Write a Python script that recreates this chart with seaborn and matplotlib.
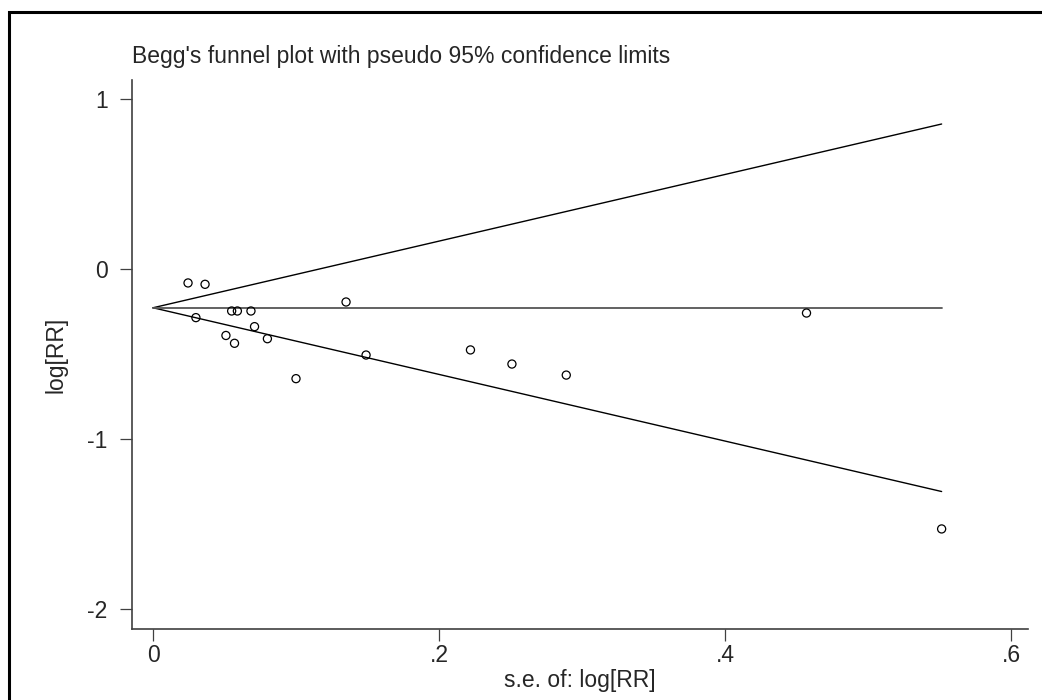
import matplotlib
matplotlib.use("Agg")
import matplotlib.pyplot as plt
import seaborn as sns
import pandas as pd
import numpy as np
from matplotlib.patches import Rectangle

# Data
se_values = [0.0245, 0.0364, 0.0300, 0.0510, 0.0550, 0.0590, 0.0570, 0.0685,
             0.0710, 0.0800, 0.1000, 0.1350, 0.1490, 0.2220, 0.2510, 0.2890,
             0.4570, 0.5515]
logrr_values = [-0.082, -0.090, -0.286, -0.391, -0.247, -0.247, -0.437, -0.247,
                -0.339, -0.410, -0.645, -0.194, -0.506, -0.476, -0.559, -0.624,
                -0.259, -1.529]
pooled = -0.228
x_ticks = [0, 0.2, 0.4, 0.6]
x_tick_labels = ["0", ".2", ".4", ".6"]
y_ticks = [1, 0, -1, -2]
y_tick_labels = ["1", "0", "-1", "-2"]
title = "Begg's funnel plot with pseudo 95% confidence limits"
x_label = "s.e. of: log[RR]"
y_label = "log[RR]"

sns.set_theme(style="white")
plt.rcParams['font.family'] = ['Liberation Sans', 'DejaVu Sans']

df = pd.DataFrame({"se": se_values, "logrr": logrr_values})
se_max = max(se_values)
lines = pd.DataFrame({
    "se": [0, se_max, 0, se_max, 0, se_max],
    "y": [pooled, pooled + 1.96 * se_max, pooled, pooled - 1.96 * se_max, pooled, pooled],
    "kind": ["upper", "upper", "lower", "lower", "pooled", "pooled"],
})

fig = plt.figure(figsize=(10.42, 7.0), dpi=100)
ax = fig.add_axes([132 / 1042, 1 - 629 / 700, (1028 - 132) / 1042, (629 - 80) / 700])

sns.lineplot(data=lines[lines.kind == "upper"], x="se", y="y", ax=ax, color="black", lw=1.0)
sns.lineplot(data=lines[lines.kind == "lower"], x="se", y="y", ax=ax, color="black", lw=1.0)
sns.lineplot(data=lines[lines.kind == "pooled"], x="se", y="y", ax=ax, color="#555555", lw=1.3)
sns.scatterplot(data=df, x="se", y="logrr", ax=ax, s=34, facecolor="none",
                edgecolor="black", linewidth=0.9, zorder=5)

ax.set_xlim(-0.01469, 0.6119)
ax.set_ylim(-2.1176, 1.1118)
ax.set_xticks(x_ticks)
ax.set_xticklabels(x_tick_labels)
ax.set_yticks(y_ticks)
ax.set_yticklabels(y_tick_labels)
ax.tick_params(axis="both", direction="out", length=8.5, width=0.9, color="#404040",
               labelsize=16.5, left=True, bottom=True)
ax.tick_params(axis="x", pad=2)
ax.tick_params(axis="y", pad=9)
for side in ["top", "right"]:
    ax.spines[side].set_visible(False)
for side in ["left", "bottom"]:
    ax.spines[side].set_color("#404040")
    ax.spines[side].set_linewidth(1.2)

ax.set_xlabel(x_label, fontsize=16.5, labelpad=2)
ax.set_ylabel(y_label, fontsize=16.5, labelpad=14)
ax.set_title(title, fontsize=16.5, loc="left", pad=12)
ax.set_facecolor("white")

fig.patches.append(Rectangle((9 / 1042, -0.02), 1.05, 1 - 12 / 700 + 0.02,
                             transform=fig.transFigure, fill=False,
                             edgecolor="black", linewidth=2.2))

fig.savefig("out.png", dpi=100)
